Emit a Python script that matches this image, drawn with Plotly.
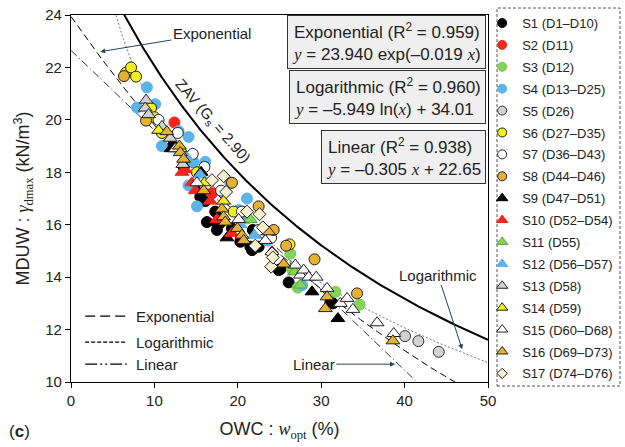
import numpy as np
import plotly.graph_objects as go

# ---- measured compaction data: OWC (%) vs MDUW (kN/m3), one series per soil group ----
s1_x = [12.2, 13.5, 14.8, 15.5, 16.1, 16.3, 17.3, 17.5, 17.5, 17.9, 17.9, 19.3, 20.3, 21.5, 21.7, 21.8, 22.5, 24.9, 25.1, 26.1, 31.1, 31.4]
s1_y = [19.0, 18.2, 17.4, 17.07, 16.9, 16.1, 16.5, 16.05, 15.8, 16.07, 16.2, 15.86, 15.35, 15.16, 15.03, 15.8, 15.16, 14.27, 14.3, 13.8, 13.05, 13.0]
s2_x = [12.4, 16.9]
s2_y = [19.9, 17.2]
s3_x = [21.1, 26.3, 26.5, 27.2, 31.7, 34.6]
s3_y = [16.24, 14.9, 14.3, 13.6, 13.44, 12.95]
s4_x = [7.9, 9.1, 10.1, 10.9, 12.9, 14.1, 14.7, 16.1, 14.1, 15.1, 21.1, 20.1, 19.1, 20.5, 23.5, 27.7]
s4_y = [20.47, 21.24, 20.6, 19.0, 19.57, 19.35, 18.4, 18.4, 17.5, 16.7, 17.0, 16.56, 17.6, 16.37, 15.4, 13.7]
s5_x = [40.05, 41.65, 44.1]
s5_y = [11.75, 11.56, 11.15]
s6_x = [6.6, 7.2, 7.8, 9.6, 10.0, 10.9, 15.1, 19.5, 26.2]
s6_y = [21.8, 22.0, 21.65, 20.45, 20.1, 19.5, 18.0, 16.5, 15.25]
s7_x = [10.5, 12.8, 14.6, 16.0, 18.0, 20.5, 22.5, 24.0]
s7_y = [20.0, 19.5, 18.7, 18.2, 17.3, 16.5, 15.8, 15.5]
s8_x = [6.35, 9.0, 19.3, 22.5, 24.3, 25.8, 29.2, 34.3]
s8_y = [21.67, 19.97, 17.6, 16.7, 15.8, 15.2, 14.68, 13.38]
s9_x = [12.0, 15.6, 18.7, 28.9, 32.0]
s9_y = [18.9, 18.0, 15.5, 13.44, 12.42]
s10_x = [13.3, 13.7, 14.5, 14.9, 16.7, 17.5, 19.3]
s10_y = [18.0, 18.1, 17.6, 17.3, 16.9, 16.2, 15.67]
s11_x = [21.5, 26.8, 27.5]
s11_y = [16.2, 14.2, 13.7]
s12_x = [13.8, 15.5, 20.3, 22.0]
s12_y = [18.6, 17.9, 16.0, 15.6]
s13_x = [9.0, 8.9, 9.3, 10.9, 11.9, 13.4]
s13_y = [20.75, 20.45, 20.2, 19.75, 19.3, 18.3]
s14_x = [10.5, 13.1, 16.0, 18.3]
s14_y = [19.6, 18.9, 17.6, 16.9]
s15_x = [12.5, 15.1, 20.1, 23.3, 24.1, 26.9, 27.5, 27.9, 28.5, 29.4, 30.7, 32.3, 33.1, 33.8, 36.7, 38.7]
s15_y = [18.9, 17.6, 16.2, 15.4, 14.97, 14.46, 14.08, 14.27, 14.0, 14.0, 13.57, 13.0, 13.19, 12.77, 12.26, 11.85]
s16_x = [11.5, 13.0, 13.1, 13.5, 15.9, 18.1, 18.3, 18.5, 19.95, 20.5, 20.7, 23.7, 25.5, 30.7, 30.5, 38.6]
s16_y = [19.55, 19.0, 18.75, 18.5, 17.3, 16.6, 16.3, 16.1, 15.86, 15.6, 15.4, 15.73, 14.5, 13.25, 12.8, 11.57]
s17_x = [16.9, 18.3, 18.6, 21.1, 22.6, 23.0, 22.1, 24.1, 24.0, 24.2]
s17_y = [17.7, 17.85, 17.25, 16.5, 16.4, 15.9, 15.2, 14.9, 14.4, 14.75]

series_names = ["S1 (D1–D10)", "S2 (D11)", "S3 (D12)", "S4 (D13–D25)", "S5 (D26)",
                "S6 (D27–D35)", "S7 (D36–D43)", "S8 (D44–D46)", "S9 (D47–D51)",
                "S10 (D52–D54)", "S11 (D55)", "S12 (D56–D57)", "S13 (D58)",
                "S14 (D59)", "S15 (D60–D68)", "S16 (D69–D73)", "S17 (D74–D76)"]
series_x = [s1_x, s2_x, s3_x, s4_x, s5_x, s6_x, s7_x, s8_x, s9_x,
            s10_x, s11_x, s12_x, s13_x, s14_x, s15_x, s16_x, s17_x]
series_y = [s1_y, s2_y, s3_y, s4_y, s5_y, s6_y, s7_y, s8_y, s9_y,
            s10_y, s11_y, s12_y, s13_y, s14_y, s15_y, s16_y, s17_y]

# regression coefficients and zero-air-void parameters
exp_a, exp_b = 23.940, -0.019
log_a, log_b = -5.949, 34.01
lin_a, lin_b = -0.305, 22.65
Gs, gamma_w = 2.90, 9.81

# marker styling per series: (symbol, fill, outline)
BLACK, RED, GREEN, BLUE = "#000000", "#f3261c", "#86d35c", "#5bb3e8"
GRAY, YELLOW, WHITE, ORANGE, CREAM = "#d2d2d2", "#f2ef1f", "#ffffff", "#e6b030", "#f6efcf"
styles = [
    ("circle", BLACK, BLACK), ("circle", RED, RED), ("circle", GREEN, "#73c94a"),
    ("circle", BLUE, BLUE), ("circle", GRAY, "#333333"), ("circle", YELLOW, "#222222"),
    ("circle", WHITE, "#222222"), ("circle", ORANGE, "#222222"),
    ("triangle-up", BLACK, BLACK), ("triangle-up", RED, RED), ("triangle-up", GREEN, "#5aa83c"),
    ("triangle-up", BLUE, BLUE), ("triangle-up", GRAY, "#222222"), ("triangle-up", YELLOW, "#222222"),
    ("triangle-up", WHITE, "#222222"), ("triangle-up", ORANGE, "#222222"),
    ("diamond", CREAM, "#222222"),
]

FONT = "Liberation Sans, Arial, sans-serif"
SERIF = "Liberation Serif, Times New Roman, serif"

fig = go.Figure()

# zero-air-void curve
w = np.linspace(4, 50, 300)
fig.add_trace(go.Scatter(x=w, y=Gs * gamma_w / (1 + w / 100 * Gs), mode="lines",
                         line=dict(color="black", width=2), showlegend=False, hoverinfo="skip"))

# fitted relations
xf = np.linspace(0.01, 50, 400)
fig.add_trace(go.Scatter(x=xf, y=exp_a * np.exp(exp_b * xf), mode="lines",
                         line=dict(color="black", width=1, dash="7px,4px"),
                         showlegend=False, hoverinfo="skip"))
xl = np.linspace(4, 50, 400)
fig.add_trace(go.Scatter(x=xl, y=log_a * np.log(xl) + log_b, mode="lines",
                         line=dict(color="#555555", width=0.8, dash="2px,2px"),
                         showlegend=False, hoverinfo="skip"))
fig.add_trace(go.Scatter(x=xf, y=lin_a * xf + lin_b, mode="lines",
                         line=dict(color="black", width=0.8, dash="8px,3px,1px,3px"),
                         showlegend=False, hoverinfo="skip"))

# data markers (plotted large) and compact legend entries with the same style
for name, xs, ys, (sym, fill, edge) in zip(series_names, series_x, series_y, styles):
    size = 11 if sym == "circle" else (12 if sym == "triangle-up" else 10)
    fig.add_trace(go.Scatter(
        x=xs, y=ys, mode="markers", name=name, showlegend=False, legendgroup=name,
        marker=dict(symbol=sym, size=size, color=fill, line=dict(color=edge, width=1)),
    ))
for name, (sym, fill, edge) in zip(series_names, styles):
    lsize = 9 if sym == "circle" else (10 if sym == "triangle-up" else 8)
    fig.add_trace(go.Scatter(
        x=[None], y=[None], mode="markers", name=name, legendgroup=name,
        marker=dict(symbol=sym, size=lsize, color=fill, line=dict(color=edge, width=1)),
    ))

ann = []
# equation boxes
box_style = dict(xref="paper", yref="paper", xanchor="right", yanchor="top", align="left",
                 showarrow=False, bgcolor="#efefef", bordercolor="#333333", borderwidth=1,
                 borderpad=4, font=dict(family=FONT, size=17, color="#222222"))
iy = f'<span style="font-family:{SERIF}"><i>y</i></span>'
ix = f'<span style="font-family:{SERIF}"><i>x</i></span>'
ann.append(dict(x=0.995, y=1.0,
                text=f"Exponential (R<sup>2</sup> = 0.959)<br>{iy} = 23.940 exp(–0.019 {ix})", **box_style))
ann.append(dict(x=0.995, y=0.850,
                text=f"Logarithmic (R<sup>2</sup> = 0.960)<br>{iy} = –5.949 ln({ix}) + 34.01", **box_style))
ann.append(dict(x=0.995, y=0.687,
                text=f"Linear (R<sup>2</sup> = 0.938)<br>{iy} = –0.305 {ix} + 22.65", **box_style))

# curve labels
lab_font = dict(family=FONT, size=15, color="#222222")
ann.append(dict(x=17.0, y=19.95, text="ZAV (G<sub>s</sub> = 2.90)", showarrow=False,
                textangle=49, font=lab_font))
ann.append(dict(x=3.5, y=22.6, ax=16.9, ay=23.3, axref="x", ayref="y", text="Exponential",
                showarrow=True, arrowhead=2, arrowsize=1, arrowwidth=1, font=lab_font))
ann.append(dict(x=46.9, y=11.25, ax=44.0, ay=14.08, axref="x", ayref="y", text="Logarithmic",
                showarrow=True, arrowhead=2, arrowsize=1, arrowwidth=1, font=lab_font))
ann.append(dict(x=38.85, y=10.68, ax=29.1, ay=10.68, axref="x", ayref="y", text="Linear",
                showarrow=True, arrowhead=2, arrowsize=1, arrowwidth=1, font=lab_font))

# line-style key in the lower-left corner
key_names = ["Exponential", "Logarithmic", "Linear"]
key_y = [12.51, 11.52, 10.68]
key_dash = ["10px,5px", "4px,2px", "12px,3px,2px,3px,2px,3px"]
shapes = []
for nm, ky, dsh in zip(key_names, key_y, key_dash):
    shapes.append(dict(type="line", xref="x", yref="y", x0=1.7, x1=6.7, y0=ky, y1=ky,
                       line=dict(color="black", width=1.3, dash=dsh)))
    ann.append(dict(x=7.5, y=ky, text=nm, showarrow=False, xanchor="left", font=lab_font))

# dashed frame around the series legend
shapes.append(dict(type="rect", xref="paper", yref="paper", x0=1.0216, x1=1.3165, y0=-0.011, y1=1.019,
                   line=dict(color="#555555", width=1, dash="3px,2px")))

# panel tag
ann.append(dict(x=-0.153, y=-0.166, xref="paper", yref="paper", text="(<b>c</b>)", showarrow=False,
                xanchor="left", font=dict(family=FONT, size=17, color="#222222")))

fig.update_layout(
    width=625, height=447,
    margin=dict(l=71, r=137, t=15, b=65, autoexpand=False),
    paper_bgcolor="white", plot_bgcolor="white",
    font=dict(family=FONT, size=14, color="#222222"),
    annotations=ann, shapes=shapes,
    legend=dict(x=0.986, y=1.019, xanchor="left", yanchor="top", bgcolor="rgba(0,0,0,0)",
                font=dict(family=FONT, size=13, color="#222222"), itemwidth=30,
                traceorder="grouped", tracegroupgap=2, maxheight=1.0),
)
fig.update_xaxes(range=[0, 50], tickvals=[0, 10, 20, 30, 40, 50], showgrid=False, zeroline=False,
                 showline=True, linecolor="black", linewidth=1.3, mirror=True,
                 ticks="outside", ticklen=5, tickcolor="black",
                 tickfont=dict(size=15),
                 title=dict(text=f'OWC : <span style="font-family:{SERIF}"><i>w</i><sub>opt</sub></span> (%)',
                            font=dict(size=18), standoff=14))
fig.update_yaxes(range=[10, 24], tickvals=[10, 12, 14, 16, 18, 20, 22, 24], showgrid=False,
                 zeroline=False, showline=True, linecolor="black", linewidth=1.3, mirror=True,
                 ticks="outside", ticklen=5, tickcolor="black",
                 tickfont=dict(size=15),
                 title=dict(text=f'MDUW : <span style="font-family:{SERIF}"><i>γ</i><sub>dmax</sub></span> (kN/m<sup>3</sup>)',
                            font=dict(size=18), standoff=10))

fig.write_html("out.html")
